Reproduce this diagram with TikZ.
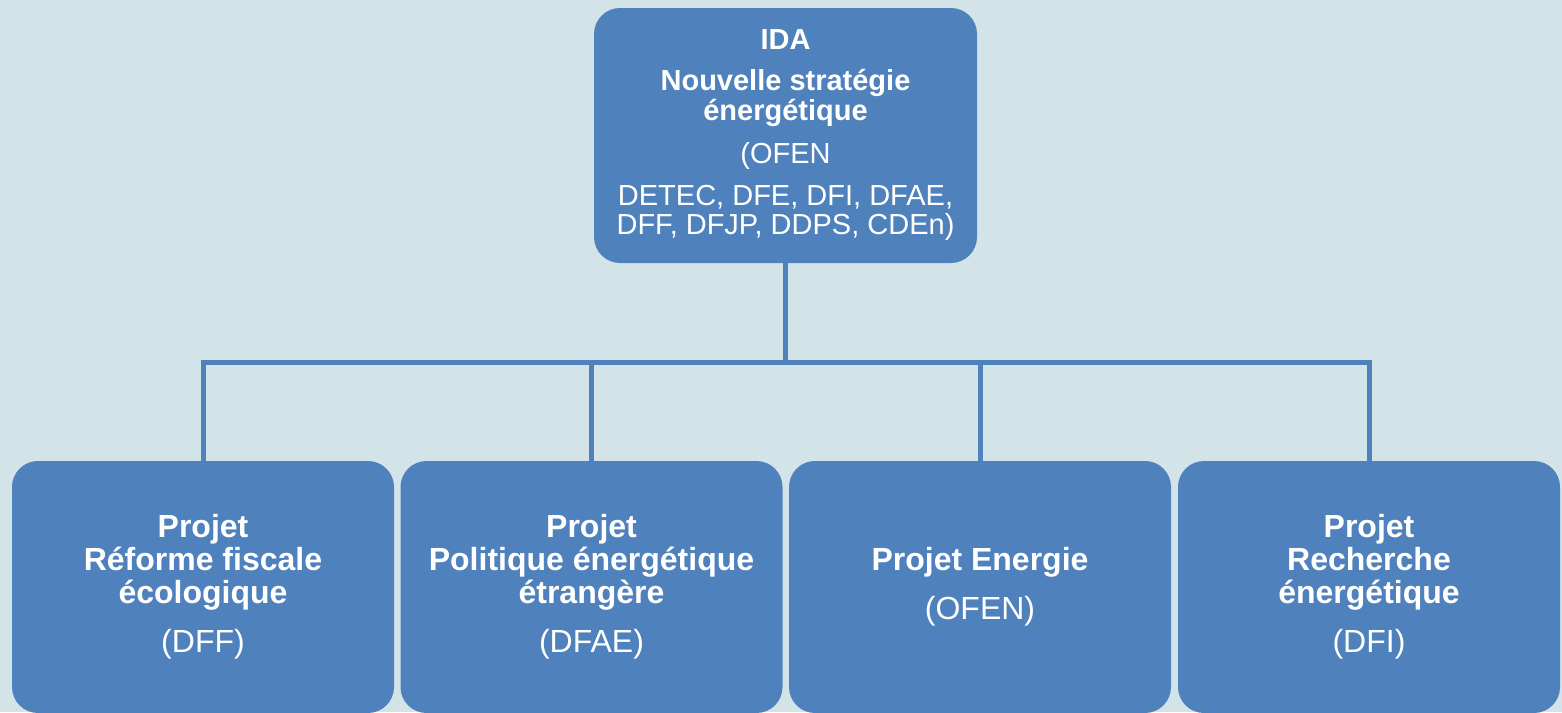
\documentclass[tikz,border=0pt]{standalone}
\usepackage{fontspec}
\setmainfont{Liberation Sans}
\definecolor{boxblue}{HTML}{4F81BD}
\definecolor{bgblue}{HTML}{D2E4E8}
\begin{document}
\begin{tikzpicture}[x=1pt,y=-1pt,
  topbox/.style={fill=boxblue, rounded corners=26pt, minimum width=383pt, minimum height=255pt,
    inner sep=0pt, text=white, align=center, font=\fontsize{29}{29.5}\selectfont},
  subbox/.style={fill=boxblue, rounded corners=26pt, minimum width=382pt, minimum height=252pt,
    inner sep=0pt, text=white, align=center, font=\fontsize{32}{33}\selectfont},
  conn/.style={draw=boxblue, line width=5pt}]
\fill[bgblue] (0,0) rectangle (1562,712);
\useasboundingbox (0,0) rectangle (1562,712);
\clip (0,0) rectangle (1562,712);
\node[topbox] (top) at (785.5,135.5) {\textbf{IDA}\\[11.5pt]\textbf{Nouvelle stratégie}\\\textbf{énergétique}\\[13.5pt](OFEN\\[12.5pt]DETEC, DFE, DFI, DFAE,\\DFF, DFJP, DDPS, CDEn)};
\node[subbox] (b1) at (203,587) {\textbf{Projet}\\\textbf{Réforme fiscale}\\\textbf{écologique}\\[16pt](DFF)};
\node[subbox] (b2) at (591.5,587) {\textbf{Projet}\\\textbf{Politique énergétique}\\\textbf{étrangère}\\[16pt](DFAE)};
\node[subbox] (b3) at (980,587) {\textbf{Projet Energie}\\[16pt](OFEN)};
\node[subbox] (b4) at (1369,587) {\textbf{Projet}\\\textbf{Recherche}\\\textbf{énergétique}\\[16pt](DFI)};
\coordinate (bus) at (785.5,362);
\draw[conn] (top.south) -- (bus) -| (b1.north);
\draw[conn] (bus) -| (b2.north);
\draw[conn] (bus) -| (b3.north);
\draw[conn] (bus) -| (b4.north);
\end{tikzpicture}
\end{document}
